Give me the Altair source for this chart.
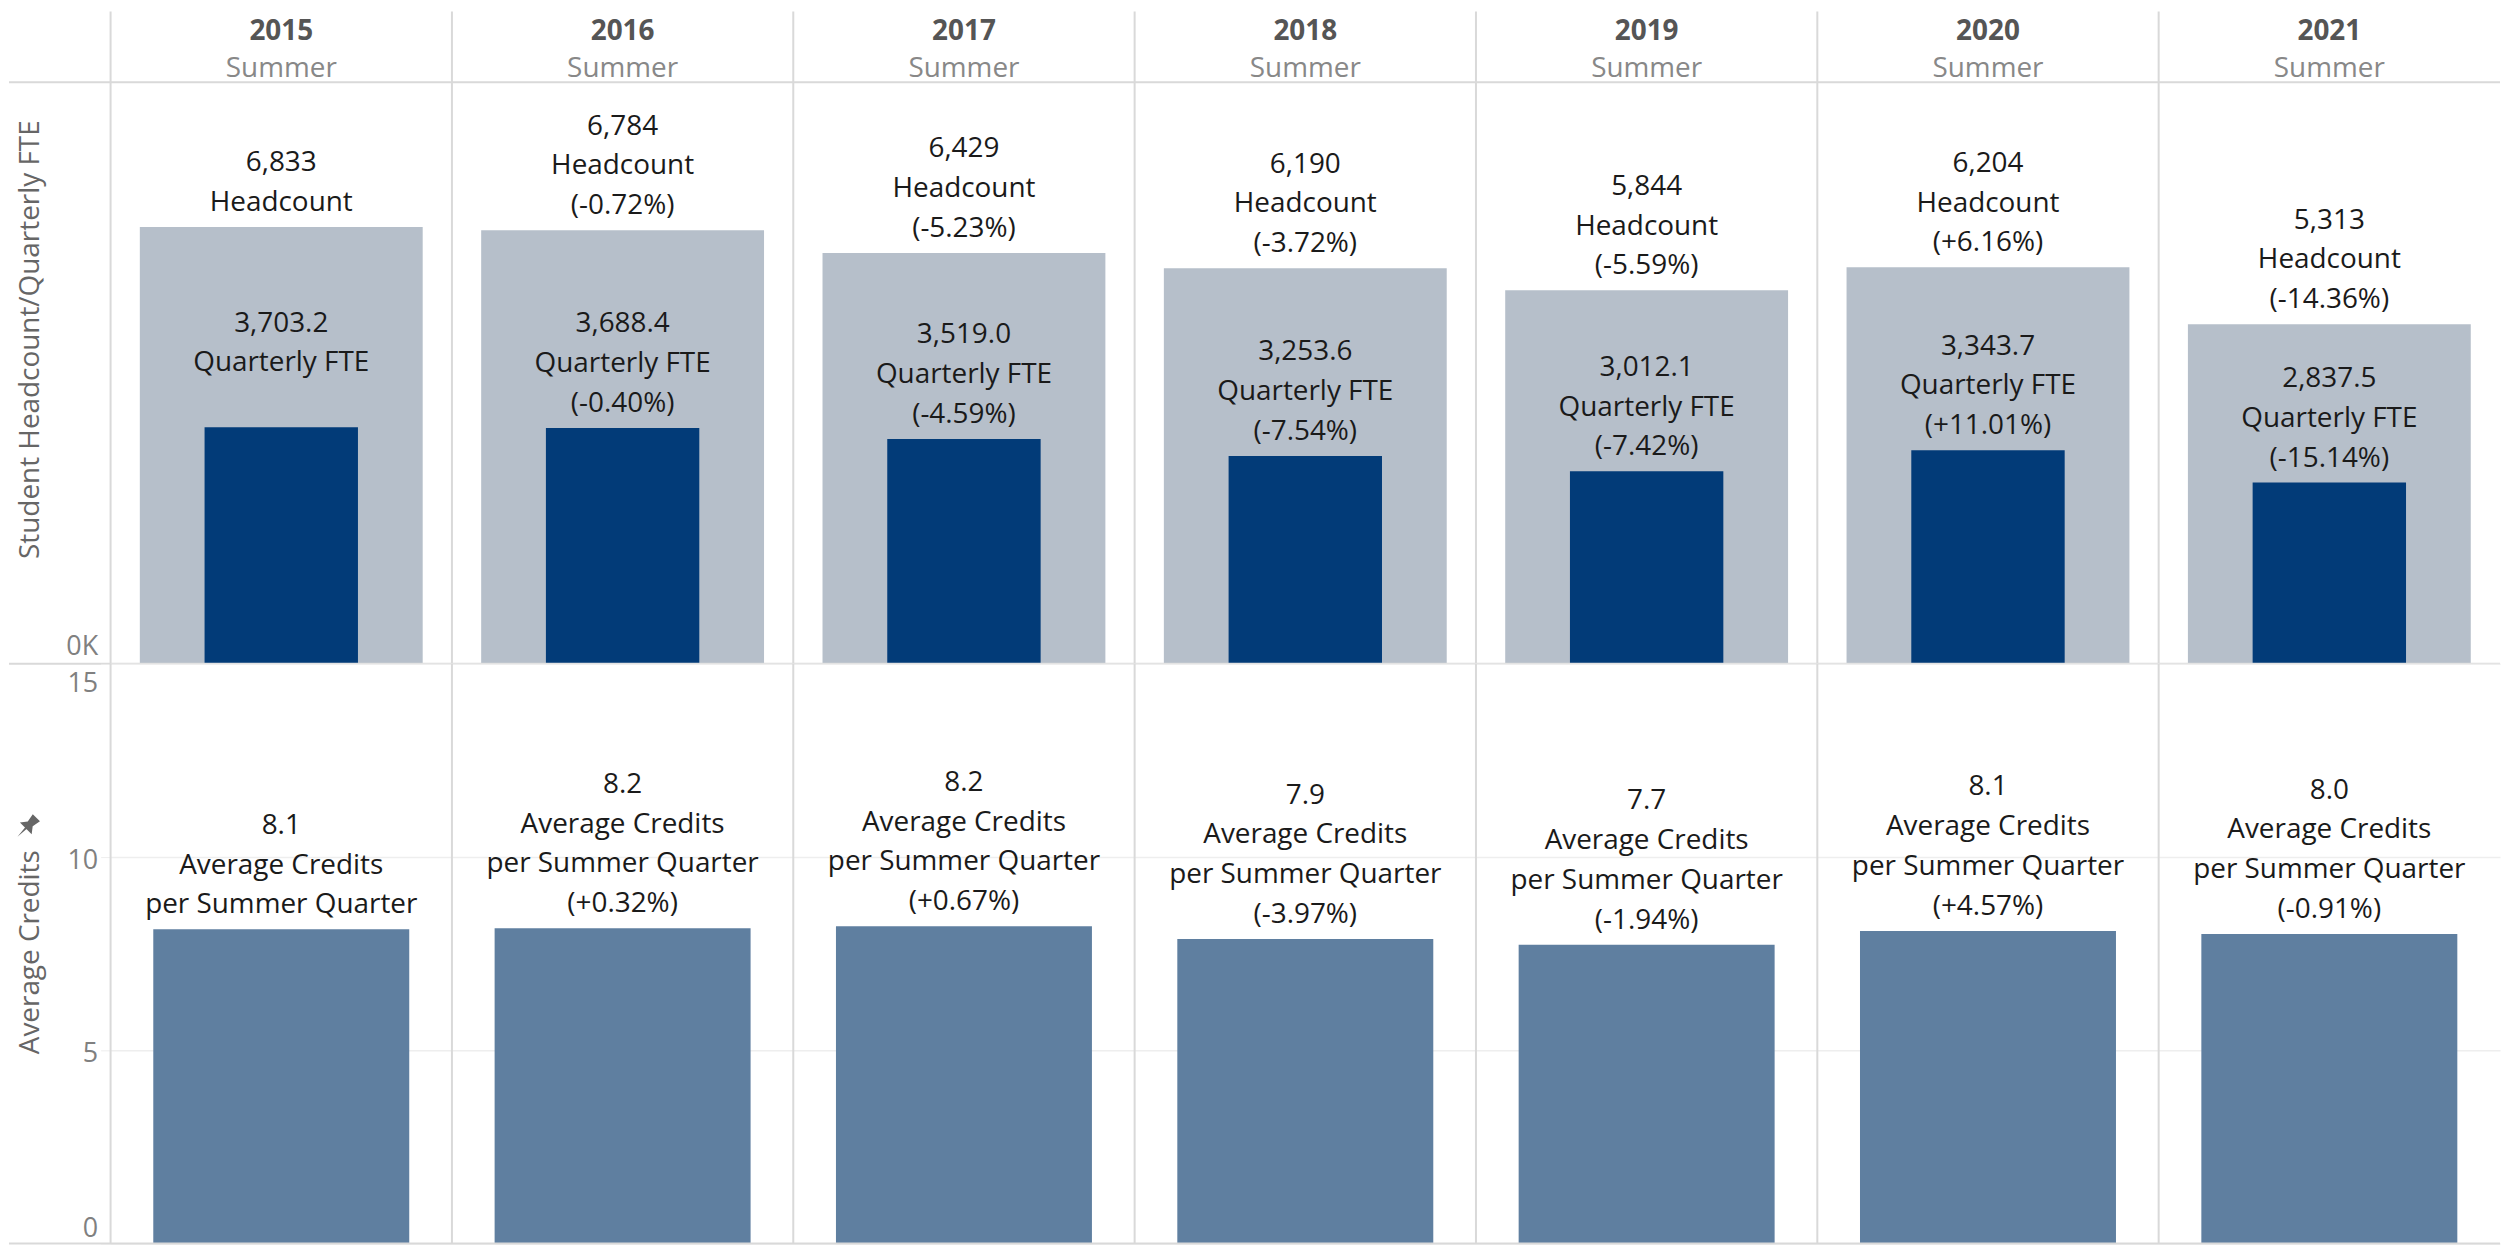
import altair as alt

# ---- data ----
years = ["2015", "2016", "2017", "2018", "2019", "2020", "2021"]
headcount = [6833, 6784, 6429, 6190, 5844, 6204, 5313]
headcount_change = ["", "(-0.72%)", "(-5.23%)", "(-3.72%)", "(-5.59%)", "(+6.16%)", "(-14.36%)"]
fte = [3703.2, 3688.4, 3519.0, 3253.6, 3012.1, 3343.7, 2837.5]
fte_change = ["", "(-0.40%)", "(-4.59%)", "(-7.54%)", "(-7.42%)", "(+11.01%)", "(-15.14%)"]
avg_credits = [8.13, 8.16, 8.21, 7.88, 7.73, 8.09, 8.01]
avg_change = ["", "(+0.32%)", "(+0.67%)", "(-3.97%)", "(-1.94%)", "(+4.57%)", "(-0.91%)"]
term = "Summer"

NLINES = 4
records = []
for i, y in enumerate(years):
    hc_lines = [f"{headcount[i]:,}", "Headcount"] + ([headcount_change[i]] if headcount_change[i] else [])
    fte_lines = [f"{fte[i]:,.1f}", "Quarterly FTE", fte_change[i]]
    avg_lines = [f"{avg_credits[i]:.1f}", "Average Credits", "per Summer Quarter"] + (
        [avg_change[i]] if avg_change[i] else [])
    rec = {"year": y, "headcount": headcount[i], "fte": fte[i], "avg": avg_credits[i]}
    for kind, lines in (("hc", hc_lines), ("fte", fte_lines), ("avg", avg_lines)):
        rev = lines[::-1]
        for k in range(NLINES):
            rec[f"{kind}_{k}"] = rev[k] if k < len(rev) else ""
    records.append(rec)

data = alt.Data(values=records)
one = alt.Data(values=[{"k": 1}])

FONT = "Open Sans"
W = 2399
H1 = 584
H2 = 582
LEFT = 102
BORDER = "#d9d9d9"
LH = 40

xs = alt.Scale(paddingInner=0, paddingOuter=0)
X = alt.X("year:N", sort=years, scale=xs, axis=None)
XSEP = alt.X("year:N", sort=years, scale=xs, axis=None, bandPosition=0)


def label_layers(kind, ych):
    out = []
    for k in range(NLINES):
        out.append(alt.Chart(data).mark_text(
            font=FONT, fontSize=28, baseline="alphabetic", dy=-16 - LH * k,
            color="#1a1a1a", align="center").encode(x=X, y=ych, text=f"{kind}_{k}:N"))
    return out


top_axis = alt.Axis(values=[0], labelExpr="'0K'", grid=False, domain=False,
                    ticks=True, tickSize=10, tickColor=BORDER, labelPadding=3,
                    labelFlush=True, labelFlushOffset=-3,
                    labelFont=FONT, labelFontSize=27, labelColor="#808080",
                    title="Student Headcount/Quarterly FTE", titleFont=FONT,
                    titleFontSize=28, titleFontWeight="normal", titleColor="#666666",
                    titleAngle=270, titleX=-72, titleY=258, titleAlign="center",
                    titleBaseline="alphabetic")
ys_top = alt.Scale(domain=[0, 9100], nice=False)


def ytop(field):
    return alt.Y(f"{field}:Q", scale=ys_top, axis=top_axis)


hc_bar = alt.Chart(data).mark_bar(size=284, color="#b6bfca").encode(x=X, y=ytop("headcount"))
fte_bar = alt.Chart(data).mark_bar(size=154, color="#023b78").encode(x=X, y=ytop("fte"))

hdr_year = alt.Chart(data).mark_text(font=FONT, fontSize=28, fontWeight="bold", color="#555555",
                                     align="center", baseline="alphabetic").encode(
    x=X, y=alt.value(-42), text="year:N")
hdr_term = alt.Chart(data).mark_text(font=FONT, fontSize=28, color="#888888",
                                     align="center", baseline="alphabetic").encode(
    x=X, y=alt.value(-5), text=alt.value(term))

sep_top = alt.Chart(data).mark_rule(color=BORDER, strokeWidth=2).encode(
    x=XSEP, y=alt.value(-71), y2=alt.value(H1))
hline_top = alt.Chart(one).mark_rule(color=BORDER, strokeWidth=2).encode(
    x=alt.value(-LEFT), x2=alt.value(W), y=alt.value(0))
hline_mid = alt.Chart(one).mark_rule(color=BORDER, strokeWidth=2).encode(
    x=alt.value(-LEFT), x2=alt.value(W), y=alt.value(H1))

top = alt.layer(hc_bar, fte_bar, sep_top, hline_top, hline_mid,
                *label_layers("hc", ytop("headcount")),
                *label_layers("fte", ytop("fte")),
                hdr_year, hdr_term).properties(width=W, height=H1)

bot_axis = alt.Axis(values=[0, 5, 10, 15], grid=True, gridColor="#eeeeee", gridWidth=1.5,
                    domain=False, ticks=True, tickSize=10, tickColor="#eeeeee", labelPadding=3,
                    labelFlush=True, labelFlushOffset=-4, labelOffset=3,
                    labelFont=FONT, labelFontSize=27, labelColor="#808080",
                    title="Average Credits", titleFont=FONT, titleFontSize=28,
                    titleFontWeight="normal", titleColor="#666666", titleAngle=270,
                    titleX=-72, titleY=289, titleAlign="center", titleBaseline="alphabetic")
ys_bot = alt.Scale(domain=[0, 15], nice=False)
YB = alt.Y("avg:Q", scale=ys_bot, axis=bot_axis)

avg_bar = alt.Chart(data).mark_bar(size=257, color="#5f7fa0").encode(x=X, y=YB)
sep_bot = alt.Chart(data).mark_rule(color=BORDER, strokeWidth=2).encode(
    x=XSEP, y=alt.value(0), y2=alt.value(H2))
hline_bot = alt.Chart(one).mark_rule(color=BORDER, strokeWidth=2).encode(
    x=alt.value(-LEFT), x2=alt.value(W), y=alt.value(H2))

# small pushpin icon beside the "Average Credits" axis title
PIN = ("M -0.38 -1 L 0.38 -1 L 0.26 -0.35 L 0.62 0.12 L -0.62 0.12 L -0.26 -0.35 Z "
       "M -0.08 0.12 L 0.08 0.12 L 0 1 Z")
pin = alt.Chart(one).mark_point(shape=PIN, filled=True, color="#666666", opacity=1,
                                size=720, angle=45).encode(
    x=alt.value(-84), y=alt.value(164))

bottom = alt.layer(avg_bar, sep_bot, hline_bot, pin,
                   *label_layers("avg", YB)).properties(width=W, height=H2)

chart = alt.vconcat(top, bottom, spacing=0, bounds="flush").configure_view(
    stroke=None).properties(padding=0)

chart.save("out.html", embed_options={"renderer": "svg", "actions": False})
